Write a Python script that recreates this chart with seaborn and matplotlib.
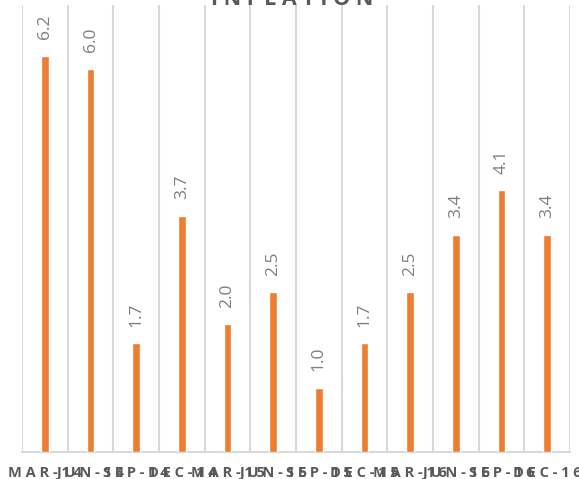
import matplotlib
matplotlib.use("Agg")
import matplotlib.pyplot as plt
import seaborn as sns
import numpy as np
import pandas as pd

categories = ["MAR-14", "JUN-14", "SEP-14", "DEC-14", "MAR-15", "JUN-15",
              "SEP-15", "DEC-15", "MAR-16", "JUN-16", "SEP-16", "DEC-16"]
inflation = [6.2, 6.0, 1.7, 3.7, 2.0, 2.5, 1.0, 1.7, 2.5, 3.4, 4.1, 3.4]
title = "INFLATION"

sns.set_theme(style="white")
plt.rcParams["font.family"] = ["Open Sans", "DejaVu Sans"]

df = pd.DataFrame({"period": categories, "value": inflation})

fig = plt.figure(figsize=(5.79, 4.79), dpi=100)
ax = fig.add_axes([22 / 579, 27 / 479, 548 / 579, 447 / 479])

sns.barplot(data=df, x="period", y="value", color="#ED7D31", saturation=1,
            width=0.175, ax=ax, zorder=3)

ax.set_xlim(-0.5, len(categories) - 0.5)
ax.set_ylim(0, 7)

# vertical separators between periods
ax.set_xticks(np.arange(-0.5, len(categories)), minor=True)
ax.grid(which="minor", axis="x", color="#d9d9d9", linewidth=1.5, zorder=0)
ax.grid(which="major", visible=False)
ax.tick_params(which="both", length=0)

ax.set_yticks([])
ax.set_ylabel("")
ax.set_xlabel("")
for side in ["top", "right", "left"]:
    ax.spines[side].set_visible(False)
ax.spines["bottom"].set_color("#d9d9d9")
ax.spines["bottom"].set_linewidth(1.5)

spaced = [" ".join(c) for c in categories]
ax.set_xticks(range(len(categories)))
ax.set_xticklabels(spaced, fontsize=10.5, fontweight="bold", color="#595959")
ax.tick_params(axis="x", pad=10)

for i, v in enumerate(inflation):
    ax.annotate(f"{v:.1f}", (i, v), xytext=(0, 12), textcoords="offset points",
                rotation=90, ha="center", va="bottom", fontsize=12.5,
                color="#7f7f7f")

fig.text(0.505, 1 - 5 / 479, " ".join(title), ha="center", va="baseline",
         fontsize=15.5, fontweight="bold", color="#595959")

fig.savefig("out.png", dpi=100)
